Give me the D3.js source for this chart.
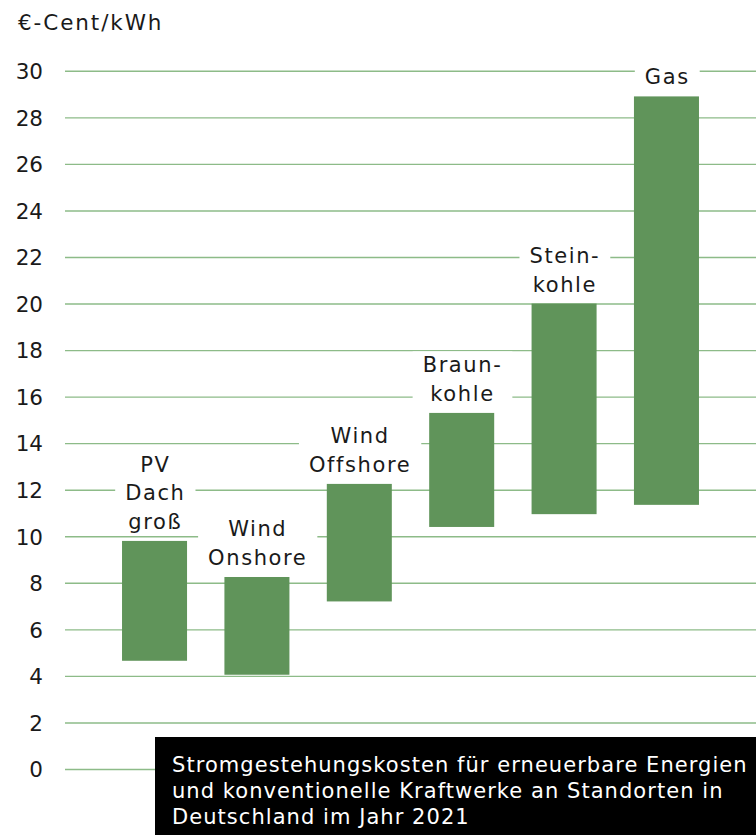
<!DOCTYPE html>
<html>
<head>
<meta charset="utf-8">
<style>
  body { margin: 0; background: #fff; font-family: 'DejaVu Sans', sans-serif; }
  svg { display: block; }
  .axis .domain { display: none; }
  .axis .tick line { stroke: #8dbb88; stroke-width: 1.4; }
  .axis .tick text { font-size: 21.5px; fill: #1a1a1a; font-family: 'DejaVu Sans', sans-serif; }
</style>
</head>
<body>
<svg width="756" height="835"></svg>
<script src="https://d3js.org/d3.v7.min.js"></script>
<script>
var categories = ["PV Dach groß", "Wind Onshore", "Wind Offshore", "Braunkohle", "Steinkohle", "Gas"];
var labelLines = [["PV", "Dach", "groß"], ["Wind", "Onshore"], ["Wind", "Offshore"], ["Braun-", "kohle"], ["Stein-", "kohle"], ["Gas"]];
var lowValues = [4.65, 4.05, 7.2, 10.4, 10.95, 11.35];
var highValues = [9.8, 8.25, 12.25, 15.3, 20.0, 28.9];
var yTicks = [0, 2, 4, 6, 8, 10, 12, 14, 16, 18, 20, 22, 24, 26, 28, 30];
var unitLabel = "€-Cent/kWh";
var captionLines = ["Stromgestehungskosten für erneuerbare Energien",
                    "und konventionelle Kraftwerke an Standorten in",
                    "Deutschland im Jahr 2021"];

var svg = d3.select("svg"),
    left = 65, right = 756;

var x = d3.scaleBand()
    .domain(categories)
    .range([left, right])
    .paddingInner(0.365)
    .paddingOuter(0.557);

var y = d3.scaleLinear()
    .domain([0, 30])
    .range([769, 70.8]);

// gridlines with labels
svg.append("g")
    .attr("class", "axis")
    .attr("transform", "translate(" + left + ",0)")
    .call(d3.axisLeft(y).tickValues(yTicks).tickSize(-(right - left)).tickPadding(22))
    .selectAll(".tick text")
    .attr("dy", "0.36em");

svg.append("text")
    .attr("x", 18)
    .attr("y", 30)
    .attr("font-size", 21.5)
    .attr("letter-spacing", 1.9)
    .attr("fill", "#1a1a1a")
    .text(unitLabel);

var data = categories.map(function(c, i) {
  return {name: c, lo: lowValues[i], hi: highValues[i], lines: labelLines[i]};
});

svg.append("g")
  .selectAll("rect")
  .data(data)
  .enter().append("rect")
    .attr("x", function(d) { return x(d.name); })
    .attr("width", x.bandwidth())
    .attr("y", function(d) { return y(d.hi); })
    .attr("height", function(d) { return y(d.lo) - y(d.hi); })
    .attr("fill", "#60945a");

// bar labels on white boxes
var lineH = 28.5;
var labels = svg.append("g")
  .selectAll("g")
  .data(data)
  .enter().append("g")
    .attr("transform", function(d) {
      var cx = x(d.name) + x.bandwidth() / 2 + 0.8;
      var lastBase = y(d.hi) - 12;
      return "translate(" + cx + "," + (lastBase - (d.lines.length - 1) * lineH) + ")";
    });

labels.each(function(d) {
  var g = d3.select(this);
  var bg = g.append("rect").attr("fill", "#fff");
  var t = g.append("text")
      .attr("text-anchor", "middle")
      .attr("font-size", 21)
      .attr("letter-spacing", 1.6)
      .attr("fill", "#1a1a1a");
  d.lines.forEach(function(l, i) {
    t.append("tspan").attr("x", 0).attr("y", i * lineH).text(l);
  });
  var b = t.node().getBBox();
  bg.attr("x", b.x - 10).attr("y", b.y - 2)
    .attr("width", b.width + 20).attr("height", b.height + 2);
});

// caption box
var cap = svg.append("g");
cap.append("rect")
    .attr("x", 155).attr("y", 737)
    .attr("width", right - 155).attr("height", 835 - 737)
    .attr("fill", "#000");
cap.append("text")
    .attr("font-size", 21)
    .attr("letter-spacing", 1.05)
    .attr("fill", "#fff")
  .selectAll("tspan")
  .data(captionLines)
  .enter().append("tspan")
    .attr("x", 172)
    .attr("y", function(d, i) { return 772 + i * 26; })
    .text(function(d) { return d; });
</script>
</body>
</html>
